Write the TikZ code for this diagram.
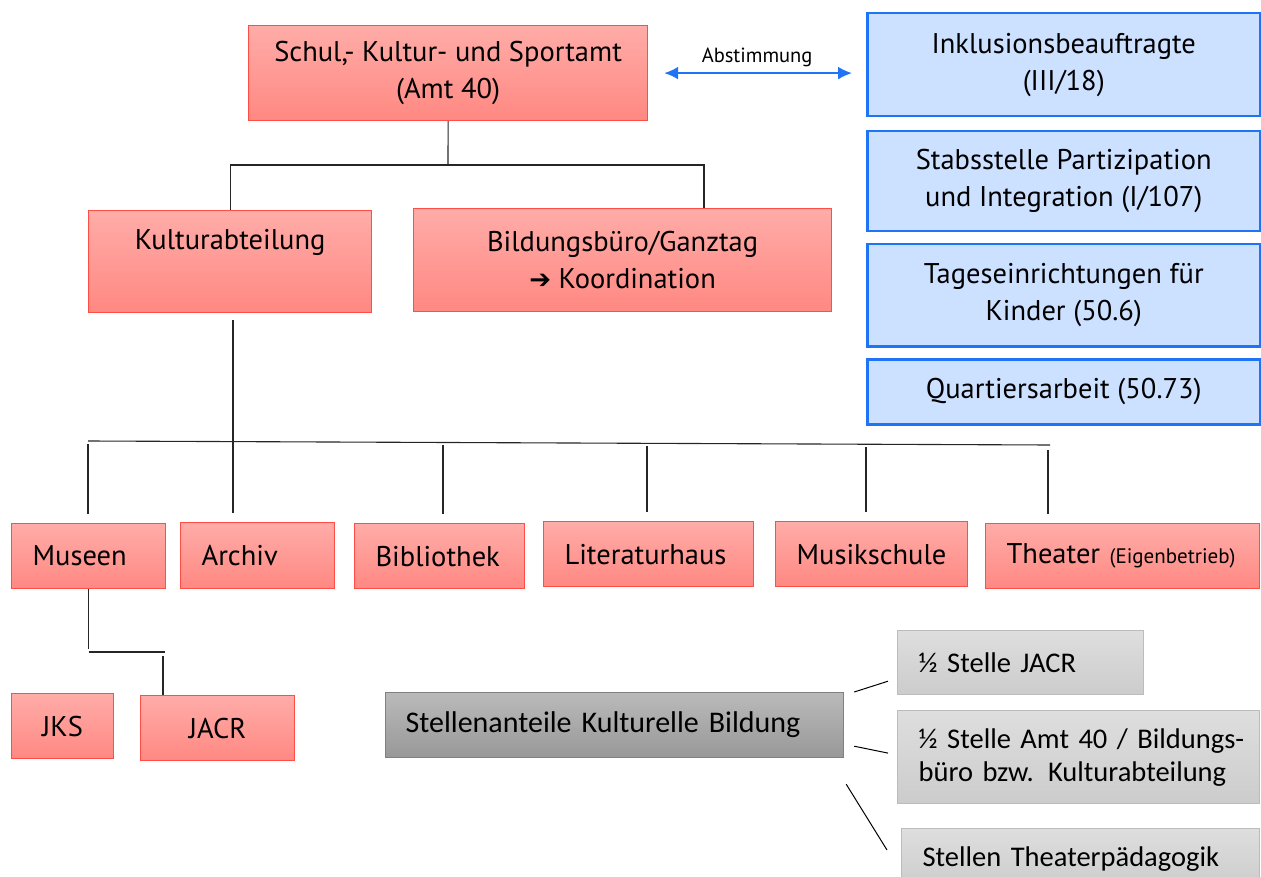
\documentclass[tikz,border=0pt]{standalone}
\usepackage{fontspec}
\setmainfont{PT Sans}
\newfontfamily\calfont{Carlito}
\newfontfamily\symfont{DejaVu Sans}
\usetikzlibrary{arrows.meta}

\definecolor{redtop}{RGB}{255,172,168}
\definecolor{redbot}{RGB}{255,136,130}
\definecolor{redline}{RGB}{255,78,70}
\definecolor{bluefill}{RGB}{204,224,255}
\definecolor{blueline}{RGB}{30,116,245}
\definecolor{graytop}{RGB}{222,222,222}
\definecolor{graybot}{RGB}{204,204,204}
\definecolor{grayline}{RGB}{188,188,188}
\definecolor{darktop}{RGB}{186,186,186}
\definecolor{darkbot}{RGB}{152,152,152}
\definecolor{darkline}{RGB}{128,128,128}

\begin{document}
\begin{tikzpicture}[x=1pt,y=-1pt,
    every node/.style={font=\fontsize{28.5}{37}\selectfont, anchor=north west, inner sep=0pt},
    redbox/.style={draw=redline, line width=1.2pt, top color=redtop, bottom color=redbot, align=center},
    bluebox/.style={draw=blueline, line width=2.5pt, fill=bluefill, align=center,
        minimum width=393pt},
    graybox/.style={draw=grayline, line width=1.2pt, top color=graytop, bottom color=graybot,
        align=left, inner xsep=21pt, font=\calfont\fontsize{28.5}{33}\selectfont},
    darkbox/.style={draw=darkline, line width=1.2pt, top color=darktop, bottom color=darkbot,
        align=left, inner xsep=20pt, font=\calfont\fontsize{30}{33}\selectfont},
    leftpad/.style={align=left, inner xsep=21pt},
    orgline/.style={line width=1.1pt, black!85},
    sideline/.style={line width=1pt, black}
]
\useasboundingbox (0,0) rectangle (1261,877);

% Amt und Querschnittsstellen
\node[redbox, minimum width=399pt, minimum height=95pt] (amt) at (248,25)
    {Schul,- Kultur- und Sportamt\\(Amt 40)};
\node[bluebox, minimum height=103pt] (inkl) at (866,12) {Inklusionsbeauftragte\\(III/18)};
\node[bluebox, minimum height=100pt] (stabs) at (866,130) {Stabsstelle Partizipation\\und Integration (I/107)};
\node[bluebox, minimum height=102pt] (tages) at (866,243) {Tageseinrichtungen für\\Kinder (50.6)};
\node[bluebox, minimum height=65pt] (quart) at (866,358) {Quartiersarbeit (50.73)};

\draw[blueline, line width=2pt, {Latex[length=14pt,width=13pt]}-{Latex[length=14pt,width=13pt]},
      shorten <=16pt, shorten >=14pt]
    (amt.east) -- (amt.east -| inkl.west)
    node[midway, above, anchor=south, yshift=5pt, font=\fontsize{20.5}{24}\selectfont, text=black] {Abstimmung};

% Abteilungen
\node[redbox, minimum width=283pt, inner ysep=0pt, text height=39pt, text depth=63pt] (kultur) at (88,210)
    {Kulturabteilung};
\node[redbox, minimum width=418pt, minimum height=103pt] (bildung) at (413,208)
    {Bildungsbüro/Ganztag\\{\symfont\bfseries\fontsize{26}{26}\selectfont ➔} Koordination};

\coordinate (j1) at (448,165);
\coordinate (j2) at (704,165);
\draw[orgline] (amt.south) -- (j1);
\draw[orgline] (kultur.north) |- (j2) -- (j2 |- bildung.north);

% Kultureinrichtungen
\node[redbox, leftpad, text width=112pt, minimum height=65pt] (museen) at (11,523) {Museen};
\node[redbox, leftpad, text width=112pt, minimum height=66pt] (archiv) at (180,522) {Archiv};
\node[redbox, leftpad, text width=128pt, minimum height=65pt] (biblio) at (354,523) {Bibliothek};
\node[redbox, leftpad, text width=168pt, minimum height=65pt] (litera) at (543,521) {Literaturhaus};
\node[redbox, leftpad, text width=150pt, minimum height=65pt] (musik) at (775,521) {Musikschule};
\node[redbox, leftpad, text width=232pt, minimum height=65pt] (theater) at (985,523)
    {\mbox{Theater {\fontsize{21}{24}\selectfont (Eigenbetrieb)}}};

\coordinate (kdrop) at (233,320);
\draw[orgline, shorten >=9pt] (kdrop) -- (kdrop |- archiv.north);
\draw[orgline] (88,441) -- (1050,445);
\foreach \x/\y/\n in {88/444/museen, 443/445/biblio, 647/446/litera, 866/447/musik, 1048/450/theater}
    \draw[orgline, shorten >=9pt] (\x,\y) coordinate (drop) -- (drop |- \n.north);

% Museen
\node[redbox, minimum width=102pt, minimum height=65pt] (jks) at (11,693) {JKS};
\node[redbox, minimum width=154pt, minimum height=65pt] (jacr) at (140,695) {JACR};

\coordinate (m1) at (89,652);
\coordinate (m2) at (165,652);
\coordinate (m3) at (163,656);
\draw[orgline] (museen.south) -- ++(0,60);
\draw[orgline] (m1) -- (m2);
\draw[orgline] (m3) -- (m3 |- jacr.north);

% Stellenanteile
\node[darkbox, text width=418pt, minimum height=65pt] (stellen) at (385,692)
    {Stellenanteile Kulturelle Bildung};
\node[graybox, text width=204pt, minimum height=64pt] (halbjacr) at (897,630) {½ Stelle JACR};
\node[graybox, text width=320pt, minimum height=93pt] (halbamt) at (897,710)
    {\mbox{½ Stelle Amt 40 / Bildungs-}\\\mbox{büro bzw. Kulturabteilung}};
\node[graybox, text width=316pt, minimum height=60pt] (paed) at (901,828) {\mbox{Stellen Theaterpädagogik}};

\draw[sideline] ([xshift=10pt]stellen.north east) -- ([xshift=-9pt,yshift=14pt]halbjacr.south west);
\draw[sideline] ([xshift=10pt,yshift=12pt]stellen.south east) -- ([xshift=-9pt,yshift=4pt]halbamt.west);
\draw[sideline] ([xshift=2pt,yshift=-26pt]stellen.south east) -- ([xshift=-14pt,yshift=-22pt]paed.north west);
\end{tikzpicture}
\end{document}
